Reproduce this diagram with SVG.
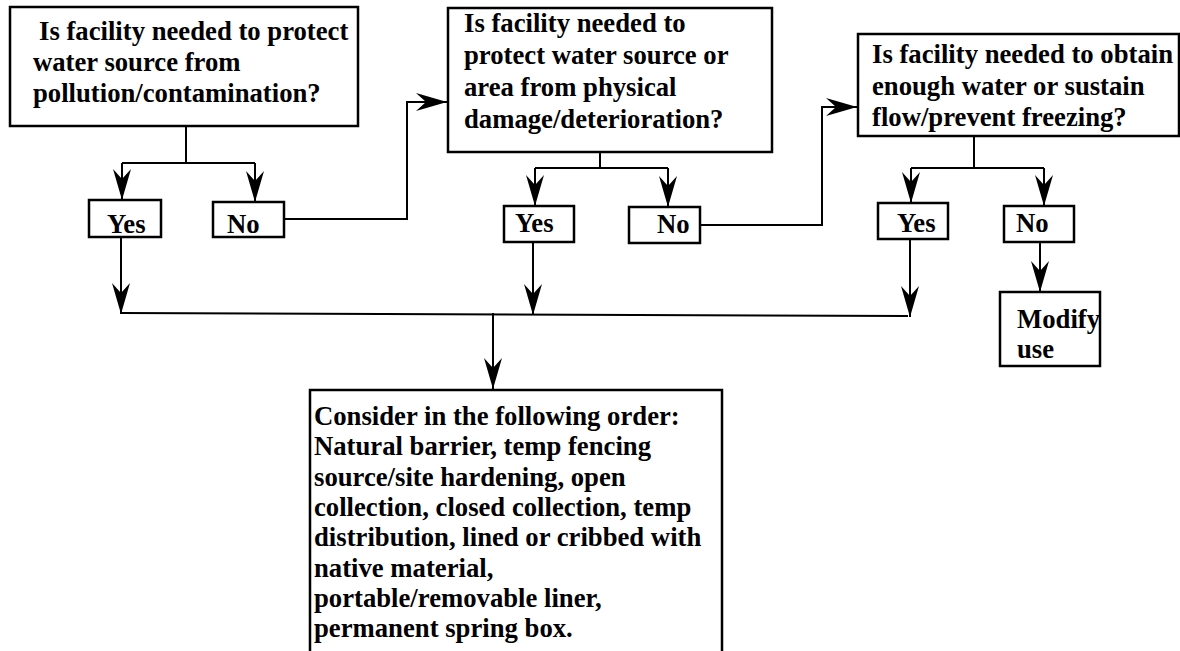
<svg xmlns="http://www.w3.org/2000/svg" width="1180" height="651" viewBox="0 0 1180 651">
<style>
.box{fill:#fff;stroke:#000;stroke-width:2.5}
.t{font-weight:bold;font-size:26.7px;fill:#000}
.c{fill:none;stroke:#000;stroke-width:2}
</style>
<defs>
<marker id="ah" markerUnits="userSpaceOnUse" viewBox="-31 -10 32 20" markerWidth="32" markerHeight="20" refX="0" refY="0" orient="auto">
<path d="M0,0 L-31,-9 L-21,0 L-31,9 Z" fill="#000"/>
</marker>
</defs>
<rect width="1180" height="651" fill="#fff"/>
<g id="connectors">
<path class="c" d="M186,126 V163"/>
<path class="c" d="M122,163 H255"/>
<path class="c" d="M122,163 V200" marker-end="url(#ah)"/>
<path class="c" d="M255,163 V202" marker-end="url(#ah)"/>
<path class="c" d="M284,219 H407 V102 H447" marker-end="url(#ah)"/>
<path class="c" d="M600,152 V168"/>
<path class="c" d="M535,168 H668"/>
<path class="c" d="M535,168 V206" marker-end="url(#ah)"/>
<path class="c" d="M668,168 V207" marker-end="url(#ah)"/>
<path class="c" d="M700,225 H822 V107 H857" marker-end="url(#ah)"/>
<path class="c" d="M974,136 V168"/>
<path class="c" d="M911,168 H1044"/>
<path class="c" d="M911,168 V203" marker-end="url(#ah)"/>
<path class="c" d="M1044,168 V206" marker-end="url(#ah)"/>
<path class="c" d="M1040,242 V292" marker-end="url(#ah)"/>
<path class="c" d="M121,237 V314" marker-end="url(#ah)"/>
<path class="c" d="M533,242 V315" marker-end="url(#ah)"/>
<path class="c" d="M910,239 V317" marker-end="url(#ah)"/>
<path class="c" d="M121,313 L908,316"/>
<path class="c" d="M493,313 V389" marker-end="url(#ah)"/>
</g>
<g font-family="'Liberation Serif', Tinos, 'Times New Roman', 'DejaVu Serif', serif">
<g id="q1">
<rect class="box" x="10" y="7" width="348" height="119"/>
<text class="t" x="39" y="40">Is facility needed to protect</text>
<text class="t" x="33" y="71">water source from</text>
<text class="t" x="33" y="102">pollution/contamination?</text>
</g>
<g id="q2">
<rect class="box" x="448" y="8" width="324" height="144"/>
<text class="t" x="464" y="32">Is facility needed to</text>
<text class="t" x="464" y="64">protect water source or</text>
<text class="t" x="464" y="96">area from physical</text>
<text class="t" x="464" y="128">damage/deterioration?</text>
</g>
<g id="q3">
<rect class="box" x="858" y="34" width="321" height="102"/>
<text class="t" x="872" y="63">Is facility needed to obtain</text>
<text class="t" x="872" y="95">enough water or sustain</text>
<text class="t" x="872" y="126">flow/prevent freezing?</text>
</g>
<g id="yes1">
<rect class="box" x="89" y="200" width="72" height="37"/>
<text class="t" x="107" y="233">Yes</text>
</g>
<g id="no1">
<rect class="box" x="213" y="202" width="71" height="35"/>
<text class="t" x="227" y="233">No</text>
</g>
<g id="yes2">
<rect class="box" x="504" y="206" width="70" height="36"/>
<text class="t" x="515" y="232">Yes</text>
</g>
<g id="no2">
<rect class="box" x="629" y="207" width="71" height="36"/>
<text class="t" x="657" y="233">No</text>
</g>
<g id="yes3">
<rect class="box" x="878" y="203" width="70" height="36"/>
<text class="t" x="897" y="232">Yes</text>
</g>
<g id="no3">
<rect class="box" x="1004" y="206" width="70" height="36"/>
<text class="t" x="1016" y="232">No</text>
</g>
<g id="modify">
<rect class="box" x="1000" y="292" width="100" height="74"/>
<text class="t" x="1017" y="328">Modify</text>
<text class="t" x="1017" y="358">use</text>
</g>
<g id="consider">
<rect class="box" x="310" y="390" width="412" height="275"/>
<text class="t" x="314" y="425">Consider in the following order:</text>
<text class="t" x="314" y="455">Natural barrier, temp fencing</text>
<text class="t" x="314" y="486">source/site hardening, open</text>
<text class="t" x="314" y="516">collection, closed collection, temp</text>
<text class="t" x="314" y="546">distribution, lined or cribbed with</text>
<text class="t" x="314" y="577">native material,</text>
<text class="t" x="314" y="607">portable/removable liner,</text>
<text class="t" x="314" y="637">permanent spring box.</text>
</g>
</g>
</svg>
